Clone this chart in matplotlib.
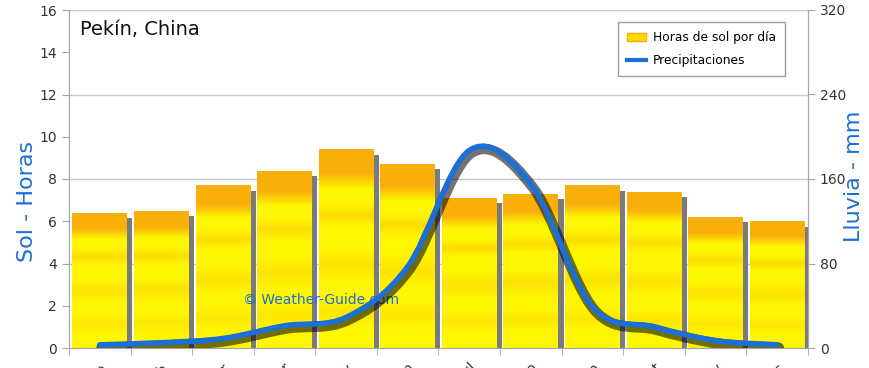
import numpy as np
import matplotlib
matplotlib.use("Agg")
import matplotlib.pyplot as plt
from matplotlib.path import Path
from matplotlib.patches import PathPatch, Patch
from matplotlib.lines import Line2D
import matplotlib.patheffects as pe

months = ["Ene", "Feb", "Mar", "Abr", "May", "Jun", "Jul", "Ago", "Sep", "Oct", "Nov", "Dic"]
sun_hours = [6.4, 6.5, 7.7, 8.4, 9.4, 8.7, 7.1, 7.3, 7.7, 7.4, 6.2, 6.0]
rain_mm = [3, 5, 9, 21, 29, 77, 187, 155, 39, 20, 7, 3]

BLUE = "#1B6FD6"
GRAY = "#A6A6A6"
TXT = "#333333"

fig = plt.figure(figsize=(8.7, 3.68), dpi=100)
ax = fig.add_axes([69/870, 20/368, 739/870, 338/368])
ax2 = ax.twinx()

x = np.arange(len(months))
bw = 0.89
for v in [4, 8, 12, 16]:
    ax.axhline(v, color="#C8C8C8", lw=1, zorder=0)

dx = 0.085
ax.bar(x + dx, np.array(sun_hours) - 0.25, width=bw, color="#7A7A7A", zorder=1, edgecolor="none")
bars = ax.bar(x, sun_hours, width=bw, color="#FFF200", zorder=2, edgecolor="none")

# gradient texture for bars
n = 200
t = np.linspace(0, 1, n)[:, None]
orange = np.array([0.97, 0.64, 0.05])
yellow = np.array([1.0, 0.97, 0.0])
w = 0.85 * np.clip((0.20 - t) / 0.08, 0, 1)
w = w + 0.30 * np.exp(-((t - 0.33) / 0.04) ** 2) + 0.22 * np.exp(-((t - 0.58) / 0.06) ** 2) \
    + 0.18 * np.exp(-((t - 0.82) / 0.05) ** 2)
w = np.clip(w, 0, 1)
grad = (w[..., None] * orange + (1 - w[..., None]) * yellow)
grad = np.repeat(grad, 4, axis=1)
for b in bars:
    x0 = b.get_x()
    h = b.get_height()
    im = ax.imshow(grad, extent=[x0, x0 + b.get_width(), 0, h], aspect="auto",
                   origin="upper", zorder=2.5, interpolation="bilinear")
    im.set_clip_path(b)

ax.set_xlim(-0.5, len(months) - 0.5)
ax.set_ylim(0, 16)
ax2.set_ylim(0, 320)

# smooth rain curve (Catmull-Rom -> cubic Bezier)
pts = np.column_stack([x, rain_mm]).astype(float)
P = np.vstack([pts[0], pts, pts[-1]])
verts = [tuple(pts[0])]
codes = [Path.MOVETO]
for i in range(1, len(P) - 2):
    p0, p1, p2, p3 = P[i - 1], P[i], P[i + 1], P[i + 2]
    c1 = p1 + (p2 - p0) / 6.0
    c2 = p2 - (p3 - p1) / 6.0
    verts += [tuple(c1), tuple(c2), tuple(p2)]
    codes += [Path.CURVE4] * 3
patch = PathPatch(Path(verts, codes), fill=False, edgecolor=BLUE, lw=4, capstyle="round",
                  joinstyle="round", zorder=5)
patch.set_path_effects([pe.SimpleLineShadow(offset=(1.2, -2.0), shadow_color="black", alpha=0.55, linewidth=7.5),
                        pe.Normal()])
ax2.add_patch(patch)

ax.set_yticks(range(0, 17, 2))
ax2.set_yticks(range(0, 321, 80))
ax.set_xticks(x)
ax.set_xticklabels(months, rotation=45, ha="right", rotation_mode="anchor", fontsize=10, color=TXT)
ax.set_xticks(np.arange(-0.5, len(months), 1), minor=True)
ax.tick_params(axis="x", which="major", length=0, pad=9)
ax.tick_params(axis="x", which="minor", length=5, color=GRAY, direction="out")
ax.tick_params(axis="y", length=5, color=GRAY, labelsize=10, labelcolor=TXT)
ax2.tick_params(axis="y", length=5, color=GRAY, labelsize=10, labelcolor=TXT)
for a in (ax, ax2):
    a.spines["top"].set_visible(False)
    for s in ("left", "right", "bottom"):
        a.spines[s].set_color(GRAY)
ax.set_facecolor("white")

fig.text(27/870, (368-201)/368, "Sol - Horas", rotation=90, ha="center", va="center",
         fontsize=16, color=BLUE)
fig.text(854/870, (368-176)/368, "Lluvia - mm", rotation=90, ha="center", va="center",
         fontsize=16, color=BLUE)

ax.text(0.015, 0.97, "Pekín, China", transform=ax.transAxes, ha="left", va="top",
        fontsize=14, color="#111111", zorder=10)
ax.text(2.33, 2.27, "© Weather-Guide.com", ha="left", va="center", fontsize=10,
        color=BLUE, zorder=4)

handles = [Patch(facecolor="#FFD800", edgecolor="#F5B000"),
           Line2D([0], [0], color=BLUE, lw=3)]
leg = ax2.legend(handles, ["Horas de sol por día", "Precipitaciones"], loc="upper right",
                 bbox_to_anchor=(0.969, 0.964), borderaxespad=0, fontsize=8.8, frameon=True,
                 fancybox=False, edgecolor="#A0A0A0", framealpha=1, handlelength=1.5,
                 borderpad=0.75, labelspacing=0.8, handletextpad=0.6)
leg.get_frame().set_linewidth(1)
leg.set_zorder(20)

fig.savefig("out.png", dpi=100)
